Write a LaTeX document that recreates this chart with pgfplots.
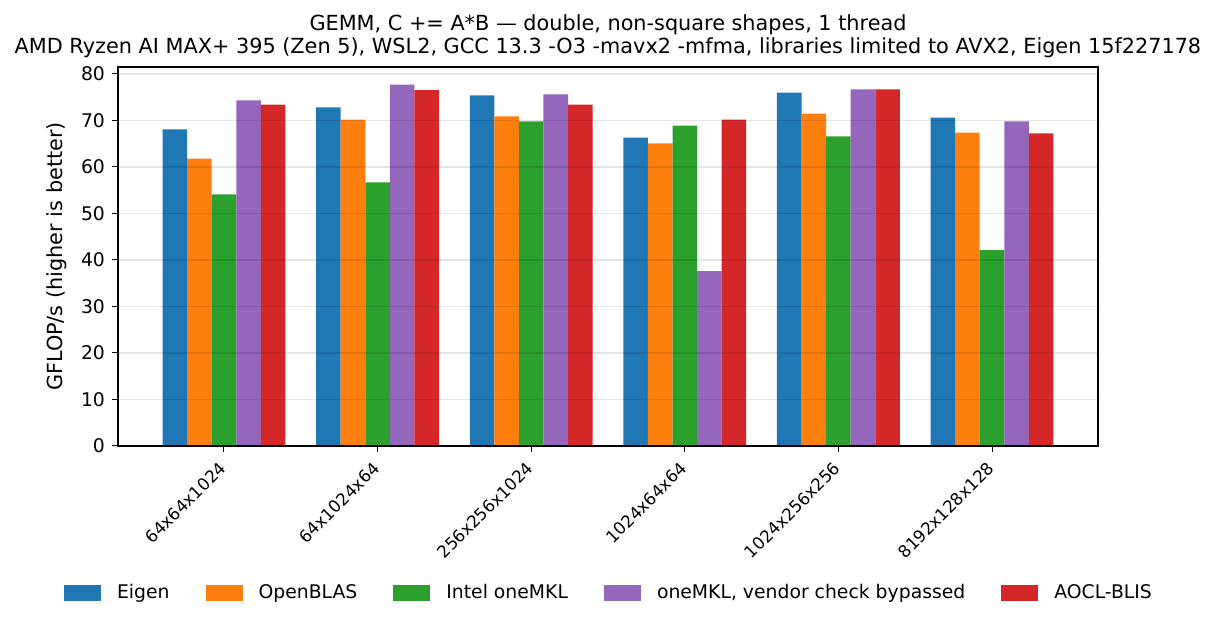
\documentclass[border=0pt]{standalone}
\usepackage{pgfplots}
\pgfplotsset{compat=1.18}
\usepackage{fontspec}
\setmainfont{DejaVu Sans}
\usetikzlibrary{calc}

\definecolor{tabblue}{HTML}{1F77B4}
\definecolor{taborange}{HTML}{FF7F0E}
\definecolor{tabgreen}{HTML}{2CA02C}
\definecolor{tabpurple}{HTML}{9467BD}
\definecolor{tabred}{HTML}{D62728}

\begin{document}
\begin{tikzpicture}
\begin{axis}[
    name=ax,
    scale only axis,
    width=490pt, height=189.5pt,
    xmin=-0.69, xmax=5.69,
    ymin=0, ymax=81.5,
    ybar=0pt,
    bar width=0.16,
    xtick={0,1,2,3,4,5},
    xticklabels={64x64x1024,64x1024x64,256x256x1024,1024x64x64,1024x256x256,8192x128x128},
    x tick label style={font=\fontsize{8.4}{9}\selectfont, rotate=45, anchor=north east, inner sep=1pt, xshift=-4pt},
    ytick={0,10,...,80},
    y tick label style={font=\fontsize{9.4}{10}\selectfont},
    /pgf/number format/assume math mode=true,
    tick align=outside,
    xtick pos=left, ytick pos=left,
    major tick length=3pt,
    tick style={black, line width=0.5pt},
    axis line style={black, line width=0.8pt},
    ymajorgrids,
    grid style={black, opacity=0.1, line width=0.6pt},
    axis on top,
    ylabel={GFLOP/s (higher is better)},
    ylabel style={font=\fontsize{10.4}{11}\selectfont},
    title={GEMM, C += A*B — double, non-square shapes, 1 thread\\AMD Ryzen AI MAX+ 395 (Zen 5), WSL2, GCC 13.3 -O3 -mavx2 -mfma, libraries limited to AVX2, Eigen 15f227178},
    title style={font=\fontsize{10.4}{11.5}\selectfont, align=center, yshift=-5pt},
    legend columns=5,
    legend style={at={(0.5,-0.388)}, anchor=center, draw=none, fill=none,
        font=\fontsize{9.4}{10}\selectfont,
        nodes={inner xsep=0pt},
        /tikz/every odd column/.append style={column sep=8pt},
        /tikz/every even column/.append style={column sep=18pt}},
    legend image code/.code={\fill[#1] (0pt,-4pt) rectangle (18.5pt,4pt);},
]
\addplot[draw=none, fill=tabblue, bar shift=-0.32] coordinates {(0,68.1) (1,72.8) (2,75.4) (3,66.3) (4,76.0) (5,70.6)};
\addlegendentry{Eigen}
\addplot[draw=none, fill=taborange, bar shift=-0.16] coordinates {(0,61.8) (1,70.2) (2,70.9) (3,65.1) (4,71.5) (5,67.4)};
\addlegendentry{OpenBLAS}
\addplot[draw=none, fill=tabgreen, bar shift=0] coordinates {(0,54.1) (1,56.7) (2,69.8) (3,68.9) (4,66.6) (5,42.1)};
\addlegendentry{Intel oneMKL}
\addplot[draw=none, fill=tabpurple, bar shift=0.16] coordinates {(0,74.3) (1,77.7) (2,75.6) (3,37.6) (4,76.7) (5,69.8)};
\addlegendentry{oneMKL, vendor check bypassed}
\addplot[draw=none, fill=tabred, bar shift=0.32] coordinates {(0,73.4) (1,76.5) (2,73.4) (3,70.2) (4,76.7) (5,67.2)};
\addlegendentry{AOCL-BLIS}
\end{axis}
\pgfresetboundingbox
\useasboundingbox ($(ax.south west)+(-59pt,-90pt)$) rectangle ($(ax.south west)+(549.5pt,223pt)$);
\end{tikzpicture}
\end{document}
